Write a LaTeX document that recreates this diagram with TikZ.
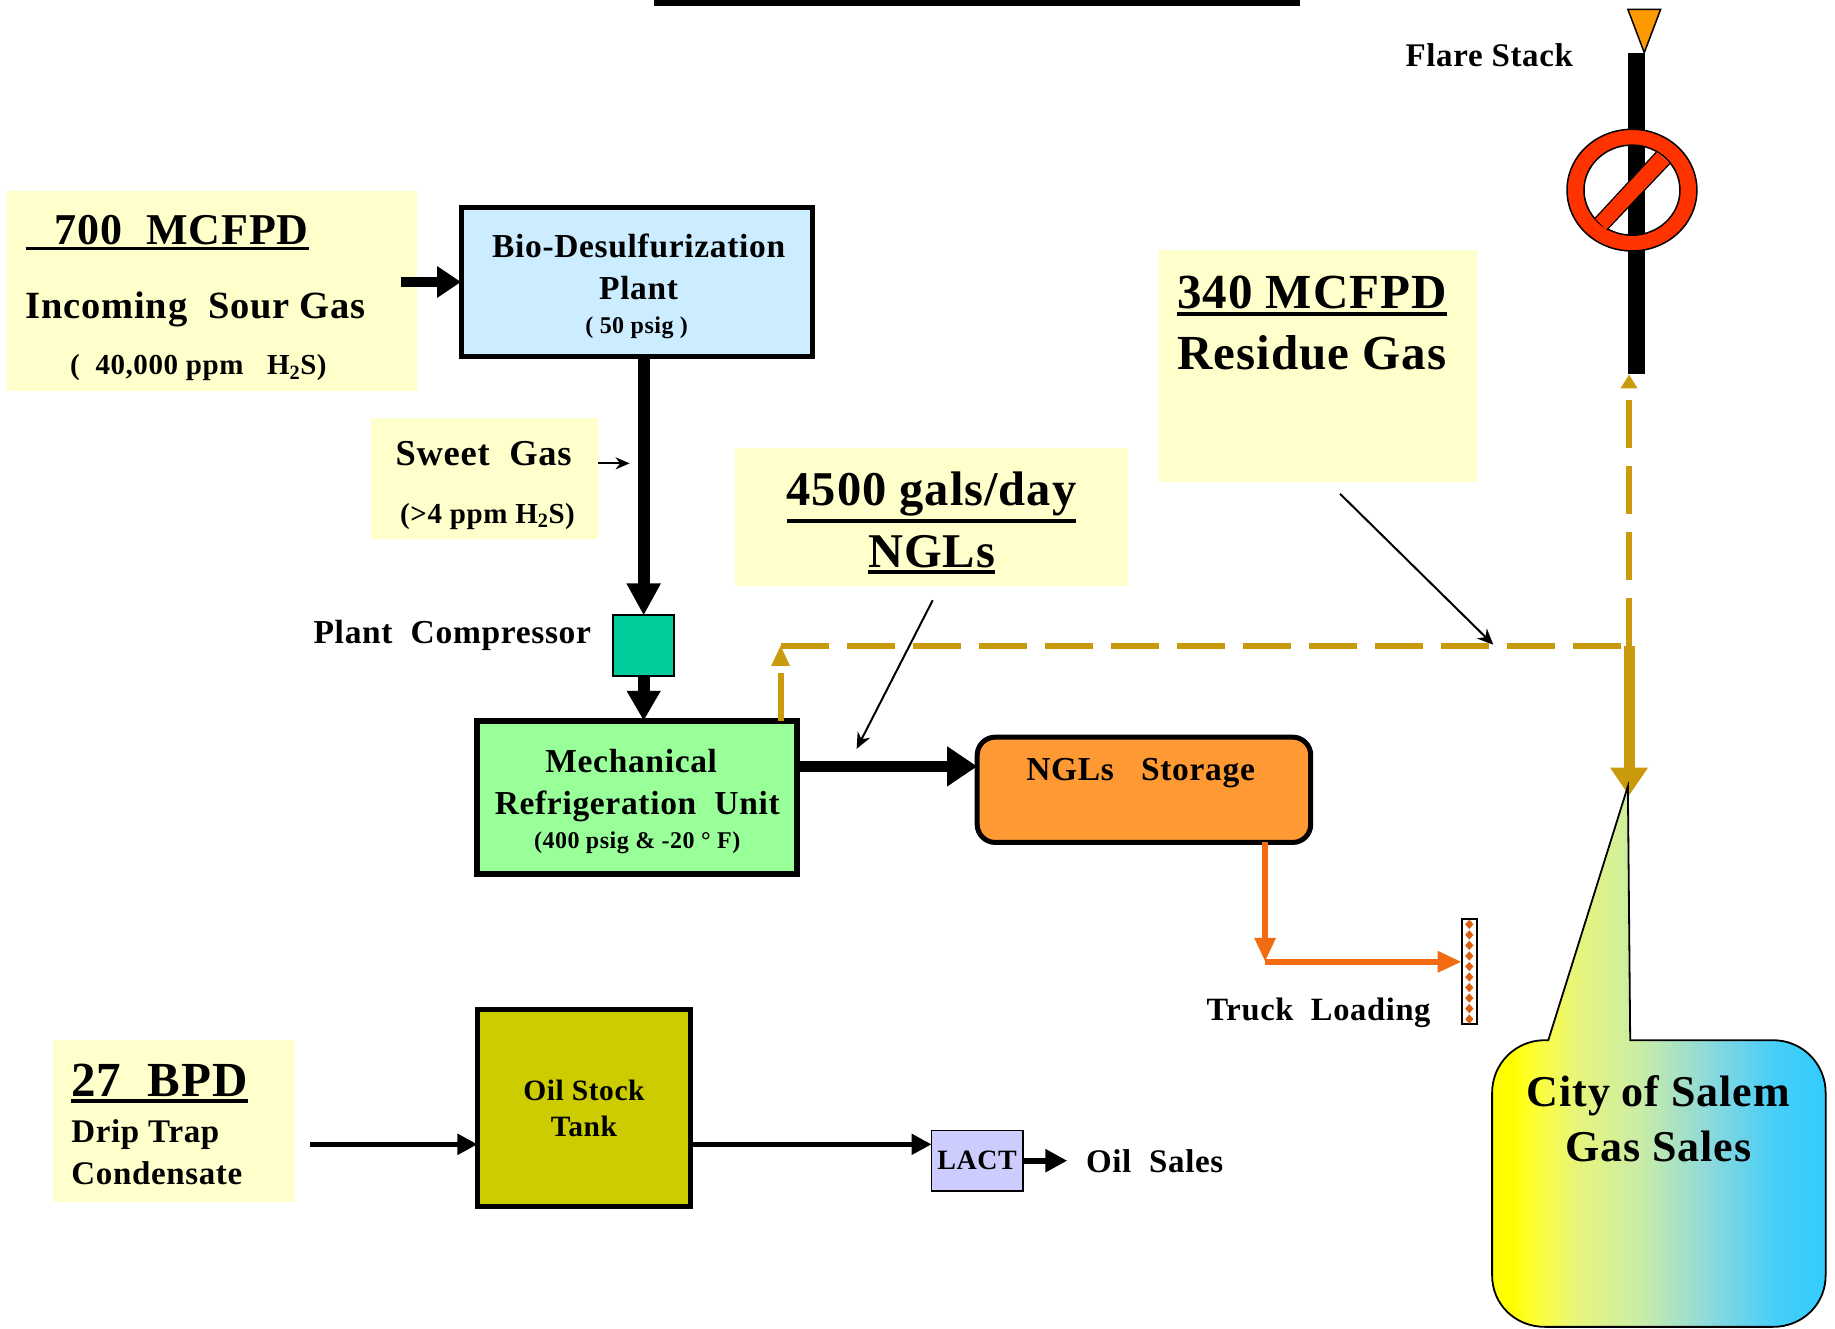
\documentclass[tikz,border=0pt]{standalone}
\usepackage{fontspec}
\setmainfont{Liberation Serif}[LetterSpace=2]
\usetikzlibrary{arrows.meta}
\definecolor{notefill}{HTML}{FFFFCC}
\definecolor{gold}{HTML}{C99A0C}
\definecolor{truckorange}{HTML}{F26B11}
\definecolor{norered}{HTML}{FF3300}
\definecolor{flareorange}{HTML}{FF9900}
\definecolor{biofill}{HTML}{CCECFF}
\definecolor{compfill}{HTML}{00CC99}
\definecolor{mrufill}{HTML}{99FF99}
\definecolor{nglfill}{HTML}{FF9933}
\definecolor{oilfill}{HTML}{CCCC00}
\definecolor{lactfill}{HTML}{CCCCFF}
\definecolor{cA}{HTML}{FFFF00}
\definecolor{cB}{HTML}{FFFF30}
\definecolor{cC}{HTML}{E8F57A}
\definecolor{cD}{HTML}{C8ECA8}
\definecolor{cE}{HTML}{8CD9DC}
\definecolor{cF}{HTML}{45CEF8}
\definecolor{cG}{HTML}{33CCFF}
\pgfdeclarehorizontalshading{cityfill}{100bp}{color(0bp)=(cA); color(25bp)=(cA); color(28bp)=(cA); color(31bp)=(cB); color(37.5bp)=(cC); color(47.5bp)=(cD); color(57.5bp)=(cE); color(67.5bp)=(cF); color(75bp)=(cG); color(100bp)=(cG)}
\newcommand{\fnt}[2]{\fontsize{#1}{#2}\selectfont\bfseries}
\newcommand{\ulx}[2][3pt]{\vtop{\hbox{#2}\kern 2.5pt\hrule height #1}}
\newcommand{\boxat}[7]{\node[#6,minimum width={(#4-#2)*1.17028pt},minimum height={(#5-#3)*1.17004pt}] (#1) at ({(#2+#4)/2},{(#3+#5)/2}) {#7};}
\tikzset{
  base/.style={inner sep=0pt,outer sep=0pt,align=center},
  notebox/.style={base,fill=notefill},
  plant/.style={base,draw=black,line width=5pt},
  lbl/.style={inner sep=0pt,outer sep=0pt,anchor=base west},
  clbl/.style={inner sep=0pt,outer sep=0pt,anchor=base},
  blockarrow/.style={line width=#1,black},
  thin pointer/.style={black,line width=2pt,-{Stealth[length=16pt,width=14pt]}},
  goldline/.style={gold,line width=6pt},
  golddash/.style={goldline,dash pattern=on 48pt off 18pt},
}
\begin{document}
\begin{tikzpicture}[x=1.17028pt,y=-1.17004pt]
\useasboundingbox (0,0) rectangle (1568,1135);
\fill[black] (559,0) rectangle (1111,5);

% notes
\boxat{n700}{6}{163}{356}{334}{notebox}{}
\boxat{nsweet}{317}{357}{511}{461}{notebox}{}
\boxat{nngl}{628}{383}{964}{501}{notebox}{}
\boxat{nres}{990}{214}{1262}{412}{notebox}{}
\boxat{nbpd}{45}{889}{252}{1027}{notebox}{}

% flare
\boxat{stack}{1391}{45}{1405.5}{320}{base,fill=black}{}
\draw[black,line width=1.5pt,fill=flareorange,line join=miter] (1391,8) -- (1419,8) -- (1405,45) -- cycle;
\path[fill=norered,draw=black,line width=1.5pt,even odd rule] (1394.5,162.5) ellipse [x radius=55.5,y radius=52] (1394.5,162.5) ellipse [x radius=41,y radius=38.5];
\fill[norered] (1362.9,186.6) -- (1415.6,129.6) -- (1427,139.6) -- (1372.9,196.6) -- cycle;
\draw[black,line width=1.2pt] (1362.9,186.6) -- (1415.6,129.6) (1372.9,196.6) -- (1427,139.6);

% plants
\boxat{bio}{394}{177}{694}{305}{plant,fill=biofill,font=\fnt{33.5}{42}}{\rule{0pt}{32pt}\hspace*{4pt}Bio-Desulfurization\\\hspace*{4pt}Plant\\[-8pt]\fnt{24}{33}( 50 psig )}
\boxat{comp}{524}{526}{576}{578}{base,draw=black,line width=2pt,fill=compfill}{}
\boxat{mru}{408}{616}{681}{747}{plant,line width=6pt,fill=mrufill,font=\fnt{33.5}{42}}{\rule{0pt}{32pt}Mechanical\hspace*{12pt}\\Refrigeration~~Unit\\[-8pt]\fnt{24}{33}(400 psig \& -20 ° F)}
\node[base,draw=black,line width=5pt,fill=nglfill,rounded corners=18pt,minimum width=285*1.17028pt,minimum height=90*1.17004pt] (ngl) at (977.5,675) {};
\boxat{oil}{408}{863}{590}{1031}{plant,fill=oilfill,font=\fnt{29.5}{36}}{Oil Stock\\Tank}
\boxat{lact}{796}{966}{874}{1018}{base,draw=black,line width=1.5pt,fill=lactfill,font=\fnt{28}{34}}{LACT}
\boxat{truck}{1249}{785}{1262}{875}{base,draw=black,line width=2pt,fill=white}{}
\foreach \yy in {790,799,...,871}
  \fill[truckorange!90!black] (1255.5,\yy-4) -- (1259,\yy) -- (1255.5,\yy+4) -- (1252,\yy) -- cycle;

% coordinates for free and shared ends
\coordinate (s700) at (343,241);
\coordinate (sweetA) at (511,396);
\coordinate (sweetB) at (538,396);
\coordinate (ngA) at (797,513);
\coordinate (ngB) at (732,640);
\coordinate (rsA) at (1145,422);
\coordinate (rsB) at (1276,551);
\coordinate (corner) at (667,552);
\coordinate (junction) at (1392,552);
\coordinate (sink) at (1392,680);
\coordinate (elbow) at (1081,822);
\coordinate (dripA) at (265,978);
\coordinate (salesB) at (912,992);

% connectors
\draw[blockarrow=10pt,-{Triangle[length=24pt,width=30pt]}] (s700) -- (bio.west |- s700);
\draw[blockarrow=12pt,-{Triangle[length=32pt,width=32pt]}] (bio.south -| 550,0) -- (comp.north -| 550,0);
\draw[blockarrow=12pt,-{Triangle[length=30pt,width=32pt]}] (comp.south -| 550,0) -- (mru.north -| 550,0);
\draw[blockarrow=11pt,-{Triangle[length=30pt,width=38pt]}] (mru.east |- 0,655) -- (ngl.west |- 0,655);
\draw[black,line width=2pt,-{Stealth[length=14pt,width=12pt]}] (sweetA) -- (sweetB);
\draw[thin pointer] (ngA) -- (ngB);
\draw[thin pointer] (rsA) -- (rsB);
\draw[truckorange,line width=6pt,-{Triangle[length=24pt,width=20pt]}] (ngl.south -| elbow) -- (elbow);
\draw[truckorange,line width=6pt,-{Triangle[length=24pt,width=20pt]}] (elbow) -- (truck.west |- elbow);
\draw[blockarrow=5pt,-{Triangle[length=20pt,width=20pt]}] (dripA) -- (oil.west |- dripA);
\draw[blockarrow=5pt,-{Triangle[length=20pt,width=20pt]}] (oil.east |- dripA) -- (lact.west |- dripA);
\draw[blockarrow=6pt,-{Triangle[length=22pt,width=22pt]}] (lact.east |- salesB) -- (salesB);

\draw[goldline] (mru.north -| corner) -- ([yshift=-27pt]corner);
\fill[gold] (corner) -- ++(8,17) -- ++(-16,0) -- cycle;
\draw[golddash] (corner) -- (junction);
\draw[golddash,-{Triangle[length=14pt,width=16pt]}] (junction) -- (stack.south -| junction);
\draw[gold,line width=11pt,-{Triangle[length=28pt,width=36pt]}] (junction) -- (sink);

% callout
\path[draw=black,line width=1.8pt,shading=cityfill]
  (1323,889) -- (1391,672) -- (1393,889) -- (1515,889)
  .. controls (1540,889) and (1560,909) .. (1560,934) -- (1560,1090)
  .. controls (1560,1115) and (1540,1134) .. (1515,1134) -- (1320,1134)
  .. controls (1295,1134) and (1275,1115) .. (1275,1090) -- (1275,934)
  .. controls (1275,909) and (1295,889) .. (1320,889) -- cycle;
\node[inner sep=0pt,align=center,font=\fnt{44}{55}] (citytxt) at (1417,956) {City of Salem\\Gas Sales};

% labels
\node[lbl] (t700) at (22,209) {\fnt{44}{50}\ulx{\hspace{29pt}700~~MCFPD}};
\node[lbl] (tinc) at (22,272) {\fnt{38.5}{44}Incoming~~Sour Gas};
\node[lbl] (tppm) at (60,320) {\fnt{29}{34}(~~40,000 ppm~~~H\textsubscript{2}S)};
\node[lbl] (tsw) at (338,398) {\fnt{36.5}{44}Sweet~~Gas};
\node[lbl] (tsw2) at (342,447) {\fnt{29}{34}(>4 ppm H\textsubscript{2}S)};
\node[lbl] (tpc) at (268,550) {\fnt{33.5}{38}Plant~~Compressor};
\node[clbl] (tngl) at (796,432) {\fnt{48.5}{60}\ulx[4pt]{4500 gals/day}};
\node[clbl] (tngl2) at (796,485) {\fnt{48.5}{60}\ulx[4pt]{NGLs}};
\node[lbl] (tres) at (1006,264) {\fnt{49}{60}\ulx[4pt]{340 MCFPD}};
\node[lbl] (tres2) at (1006,316) {\fnt{49}{60}Residue Gas};
\node[lbl] (tflare) at (1201,57) {\fnt{33}{38}Flare Stack};
\node[lbl] (tstore) at (877,667) {\fnt{33.5}{38}NGLs~~~Storage};
\node[lbl] (ttruck) at (1031,872) {\fnt{32.5}{38}Truck~~Loading};
\node[lbl] (tbpd) at (61,937) {\fnt{49}{54}\ulx[4pt]{27~~BPD}};
\node[lbl,align=left,anchor=north west,font=\fnt{33}{42}] (tdrip) at (61,957) {Drip Trap\\Condensate};
\node[lbl] (tsales) at (928,1002) {\fnt{33}{38}Oil~~Sales};
\end{tikzpicture}
\end{document}
